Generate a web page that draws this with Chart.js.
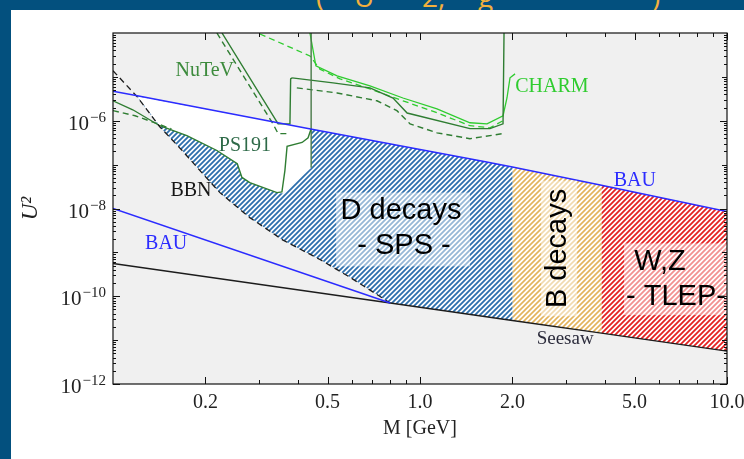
<!DOCTYPE html>
<html>
<head>
<meta charset="utf-8">
<script src="https://cdn.jsdelivr.net/npm/chart.js@4.4.1/dist/chart.umd.min.js"></script>
<style>
  html, body { margin: 0; padding: 0; background: #fff; }
  #wrap { position: relative; width: 744px; height: 459px; overflow: hidden; background: #fff; }
  #chart { position: absolute; left: 0; top: 0; }
  .bar-top { position: absolute; left: 0; top: 0; width: 744px; height: 10px; background: #03507e; overflow: hidden; }
  .bar-left { position: absolute; left: 0; top: 0; width: 11px; height: 459px; background: #03507e; }
  .bar-top span { position: absolute; top: -19px; font: 28px/30px 'Open Sans', sans-serif; color: #f3b03d; white-space: pre; }
</style>
</head>
<body>
<div id="wrap">
  <canvas id="chart" width="744" height="459"></canvas>
  <div class="bar-left"></div>
  <div class="bar-top">
    <span style="left:316px">(</span><span style="left:354px">U</span><span style="left:422px">2,</span><span style="left:478px">g</span><span style="left:652px">)</span>
  </div>
</div>
<script>
/* ─────────────────────────────────────────
   DATA  (M in GeV, U²)
───────────────────────────────────────── */
const xTickLabels = [0.2, 0.5, 1, 2, 5, 10];
const xTickMinor  = [0.3, 0.4, 0.6, 0.7, 0.8, 0.9, 3, 4, 6, 7, 8, 9];
const yLabelExps  = [-12, -10, -8, -6];

const bauUpper = [[0.1, 4.7e-6], [0.12, 3.7e-6], [0.44, 6.5e-7], [1.57, 1.23e-7], [2.0, 8.8e-8], [3.9, 3.4e-8], [10, 8.5e-9]];
const bauLower = [[0.1, 1.0e-8], [0.8, 7.0e-11]];
const seesaw   = [[0.1, 5.6e-10], [0.8, 7.0e-11], [2.0, 2.8e-11], [3.9, 1.44e-11], [10, 5.6e-12]];
const bbn      = [[0.1, 1.38e-5], [0.12, 3.5e-6], [0.142, 7.3e-7], [0.168, 2.1e-7], [0.192, 7.3e-8], [0.223, 2.3e-8],
                  [0.279, 6.2e-9], [0.358, 1.9e-9], [0.472, 6.9e-10], [0.592, 2.7e-10], [0.8, 7.0e-11]];

const ps191       = [[0.1, 2.85e-6], [0.116, 1.78e-6], [0.142, 7.7e-7], [0.174, 4.6e-7], [0.218, 2.1e-7], [0.254, 1.05e-7],
                     [0.263, 5.1e-8], [0.279, 3.9e-8], [0.342, 2.3e-8], [0.355, 2.4e-8], [0.363, 7.3e-8], [0.369, 2.6e-7],
                     [0.413, 3.2e-7], [0.432, 4.1e-7], [0.442, 6.6e-7]];
const ps191Dashed = [[0.1, 1.7e-6], [0.118, 1.3e-6], [0.14, 8.5e-7], [0.155, 6.5e-7]];
const ps191Edge   = [[0.442, 1e-4], [0.442, 8.5e-8]];
const ps191White  = [[0.12, 3.6e-6], [0.442, 6.5e-7], [0.442, 8.5e-8], [0.358, 2.2e-8], [0.342, 2.3e-8], [0.279, 3.9e-8],
                     [0.263, 5.1e-8], [0.254, 1.05e-7], [0.218, 2.1e-7], [0.174, 4.6e-7], [0.142, 7.7e-7]];

const nutev        = [[0.2265, 1e-4], [0.345, 8.5e-7], [0.377, 8.5e-7], [0.379, 9.0e-6], [0.383, 9.5e-6]];
const nutevDashed  = [[0.218, 1e-4], [0.332, 8.5e-7], [0.345, 5.1e-7], [0.377, 5.1e-7]];
const darkSolid    = [[0.383, 9.5e-6], [0.521, 7.3e-6], [0.687, 5.6e-6], [0.817, 3.3e-6], [0.908, 1.5e-6],
                      [1.455, 6.6e-7], [1.69, 6.6e-7], [1.864, 8.5e-7], [1.878, 1e-4]];
const darkDashed   = [[0.397, 5.6e-6], [0.537, 4.3e-6], [0.724, 2.85e-6], [0.841, 1.7e-6], [0.928, 8.5e-7],
                      [1.136, 5.3e-7], [1.455, 3.9e-7], [1.864, 5.1e-7]];
const charm        = [[0.438, 1e-4], [0.458, 1.78e-5], [0.537, 1.05e-5], [0.687, 6.2e-6], [0.88, 3.3e-6], [1.136, 1.87e-6],
                      [1.455, 9.0e-7], [1.653, 8.5e-7], [1.864, 1.3e-6], [1.92, 3.3e-6], [1.964, 9.5e-6], [2.04, 1.17e-5]];
const charmDashed  = [[0.301, 9.5e-5], [0.438, 3.0e-5], [0.472, 1.5e-5], [0.549, 9.0e-6], [0.687, 5.3e-6], [0.88, 2.85e-6],
                      [1.136, 1.52e-6], [1.455, 7.7e-7], [1.69, 6.9e-7], [1.864, 1.0e-6]];

/* ─────────────────────────────────────────
   STYLE
───────────────────────────────────────── */
const SERIF = '"Liberation Serif", "Times New Roman", serif';
const SANS  = '"Liberation Sans", Arial, sans-serif';
Chart.defaults.font.family = SERIF;

const C = {
  bau:    '#2b2bff',
  black:  '#1c1c1c',
  dark:   '#2f7d32',
  bright: '#2fcc2f',
  blue:   '#2d6fad',
  orange: '#e3b35c',
  red:    '#e42222',
};

function hatch(color, size, width) {
  const c = document.createElement('canvas');
  c.width = c.height = size;
  const g = c.getContext('2d');
  g.fillStyle = '#fff';
  g.fillRect(0, 0, size, size);
  g.strokeStyle = color;
  g.lineWidth = width;
  g.beginPath();
  g.moveTo(-1, size + 1);       g.lineTo(size + 1, -1);
  g.moveTo(-2, 2);              g.lineTo(2, -2);
  g.moveTo(size - 2, size + 2); g.lineTo(size + 2, size - 2);
  g.stroke();
  return g.createPattern(c, 'repeat');
}

/* ─────────────────────────────────────────
   HELPERS
───────────────────────────────────────── */
const pts   = arr => arr.map(([x, y]) => ({ x, y }));
const slice = (arr, lo, hi) => arr.filter(([m]) => m >= lo && m <= hi);

function curve(data, color, width, dash, order) {
  return {
    data: pts(data), borderColor: color, borderWidth: width, borderDash: dash || [],
    pointRadius: 0, showLine: true, fill: false, tension: 0, order: order || 2,
  };
}
function region(poly, bg, order) {
  return {
    data: pts([...poly, poly[0]]), backgroundColor: bg, borderWidth: 0, borderColor: 'rgba(0,0,0,0)',
    pointRadius: 0, showLine: true, fill: 'shape', tension: 0, order,
  };
}

// hatched regions built from the boundary curves
const dRegion  = [...slice(bauUpper, 0.12, 2), ...slice(seesaw, 0.8, 2).reverse(), ...slice(bbn, 0.12, 0.8).reverse()];
const bRegion  = [...slice(bauUpper, 2, 3.9),  ...slice(seesaw, 2, 3.9).reverse()];
const wzRegion = [...slice(bauUpper, 3.9, 10), ...slice(seesaw, 3.9, 10).reverse()];

/* ─────────────────────────────────────────
   LABELS
───────────────────────────────────────── */
const notes = [
  { text: 'NuTeV',    at: [0.199, 1.37e-5], color: '#3d8b3d', font: `20px ${SERIF}` },
  { text: 'PS191',    at: [0.269, 2.7e-7],  color: '#2e6a48', font: `20px ${SERIF}` },
  { text: 'BBN',      at: [0.1795, 2.56e-8], color: '#151515', font: `20px ${SERIF}` },
  { text: 'BAU',      at: [0.149, 1.6e-9],  color: C.bau,     font: `20px ${SERIF}` },
  { text: 'BAU',      at: [5.01, 4.33e-8],  color: C.bau,     font: `20px ${SERIF}` },
  { text: 'CHARM',    at: [2.69, 5.9e-6],   color: C.bright,  font: `20px ${SERIF}` },
  { text: 'Seesaw',   at: [2.97, 1.05e-11], color: '#2b2b3b', font: `19px ${SERIF}` },
  { text: 'D decays', at: [0.867, 9.0e-9],  color: '#000',    font: `29px ${SANS}` },
  { text: '- SPS -',  at: [0.887, 1.37e-9], color: '#000',    font: `29px ${SANS}` },
  { text: 'B decays', at: [2.815, 1.23e-9], color: '#000',    font: `29px ${SANS}`, rotate: -Math.PI / 2 },
  { text: 'W,Z',      at: [6.05, 5.9e-10],  color: '#000',    font: `29px ${SANS}` },
  { text: '- TLEP-',  at: [6.82, 9.5e-11],  color: '#000',    font: `29px ${SANS}` },
];
const glowBoxes = [
  [[0.533, 2.31e-8], [1.455, 4.8e-10]],
  [[2.48, 4.33e-8],  [3.25, 3.5e-11]],
  [[4.62, 1.6e-9],   [10, 3.7e-11]],
];

/* ─────────────────────────────────────────
   PLUGIN: background, boxes, labels, ticks, frame
───────────────────────────────────────── */
const decor = {
  id: 'decor',
  beforeDraw(chart) {
    const { ctx, chartArea: a } = chart;
    ctx.save();
    ctx.fillStyle = '#f0f0f0';
    ctx.fillRect(a.left, a.top, a.right - a.left, a.bottom - a.top);
    ctx.restore();
  },
  afterDatasetsDraw(chart) {
    const { ctx, scales: { x, y } } = chart;
    ctx.save();
    ctx.fillStyle = 'rgba(255,255,255,0.5)';
    glowBoxes.forEach(([p, q]) => {
      const x0 = x.getPixelForValue(p[0]), y0 = y.getPixelForValue(p[1]);
      const x1 = x.getPixelForValue(q[0]), y1 = y.getPixelForValue(q[1]);
      ctx.fillRect(x0, y0, x1 - x0, y1 - y0);
    });
    ctx.textAlign = 'center';
    ctx.textBaseline = 'middle';
    notes.forEach(n => {
      ctx.save();
      ctx.translate(x.getPixelForValue(n.at[0]), y.getPixelForValue(n.at[1]));
      if (n.rotate) ctx.rotate(n.rotate);
      ctx.font = n.font;
      ctx.fillStyle = n.color;
      ctx.fillText(n.text, 0, 0);
      ctx.restore();
    });
    ctx.restore();
  },
  afterDraw(chart) {
    const { ctx, chartArea: a, scales: { x, y } } = chart;
    ctx.save();
    ctx.strokeStyle = '#111';
    ctx.lineWidth = 1;
    ctx.beginPath();
    // x ticks, bottom and top, pointing inward
    const xTick = (v, len) => {
      const px = Math.round(x.getPixelForValue(v)) + 0.5;
      ctx.moveTo(px, a.bottom); ctx.lineTo(px, a.bottom - len);
      ctx.moveTo(px, a.top);    ctx.lineTo(px, a.top + len);
    };
    xTickLabels.forEach(v => xTick(v, 7));
    xTickMinor.forEach(v => xTick(v, 4));
    // y ticks, left and right
    for (let e = -12; e < -4; e++) {
      for (let k = 1; k <= 9; k++) {
        const py = Math.round(y.getPixelForValue(k * Math.pow(10, e))) + 0.5;
        const len = k === 1 ? (e % 2 === 0 ? 7 : 5) : 3;
        ctx.moveTo(a.left, py);  ctx.lineTo(a.left + len, py);
        ctx.moveTo(a.right, py); ctx.lineTo(a.right - len, py);
      }
    }
    ctx.stroke();
    ctx.lineWidth = 1.2;
    ctx.strokeRect(a.left, a.top, a.right - a.left, a.bottom - a.top);

    // y labels 10^n with raised exponent
    ctx.fillStyle = '#222';
    ctx.textBaseline = 'alphabetic';
    ctx.textAlign = 'left';
    yLabelExps.forEach(e => {
      const py = y.getPixelForValue(Math.pow(10, e));
      const sup = '\u2212' + Math.abs(e);
      ctx.font = `15px ${SERIF}`;
      const sw = ctx.measureText(sup).width;
      ctx.font = `21px ${SERIF}`;
      const bw = ctx.measureText('10').width;
      const right = a.left - 7;
      ctx.fillText('10', right - sw - bw - 1, py + 9);
      ctx.font = `15px ${SERIF}`;
      ctx.fillText(sup, right - sw, py + 1);
    });
    ctx.restore();
  },
};

/* ─────────────────────────────────────────
   CHART
───────────────────────────────────────── */
new Chart(document.getElementById('chart'), {
  type: 'scatter',
  data: {
    datasets: [
      curve(bauUpper, C.bau, 1.5, null, 1),
      curve(bauLower, C.bau, 1.5, null, 1),
      curve(seesaw, C.black, 1.4, null, 1),
      curve(bbn, C.black, 1.3, [6, 4], 1),
      curve(ps191, C.dark, 1.4, null, 2),
      curve(ps191Dashed, C.dark, 1.4, [6, 4], 2),
      curve(ps191Edge, '#4a7a4a', 1.4, null, 2),
      curve(nutev, C.dark, 1.4, null, 2),
      curve(nutevDashed, C.dark, 1.4, [6, 4], 2),
      curve(darkSolid, C.dark, 1.4, null, 2),
      curve(darkDashed, C.dark, 1.4, [6, 4], 2),
      curve(charm, C.bright, 1.3, null, 2),
      curve(charmDashed, C.bright, 1.3, [6, 4], 2),
      region(ps191White, '#ffffff', 9),
      region(dRegion, hatch(C.blue, 5, 1.8), 10),
      region(bRegion, hatch(C.orange, 5, 1.6), 10),
      region(wzRegion, hatch(C.red, 5, 1.8), 10),
    ],
  },
  options: {
    responsive: false,
    animation: false,
    events: [],
    layout: { padding: { top: 33, right: 17, left: 0, bottom: 0 } },
    plugins: { legend: { display: false }, tooltip: { enabled: false } },
    scales: {
      x: {
        type: 'logarithmic', position: 'bottom', min: 0.1, max: 10,
        afterFit: s => { s.height = 75; s.paddingLeft = 0; s.paddingRight = 0; },
        afterBuildTicks: s => { s.ticks = xTickLabels.map(v => ({ value: v })); },
        grid: { display: false, drawTicks: false },
        border: { display: false },
        ticks: {
          callback: v => Number(v).toFixed(1), padding: 7, color: '#222',
          font: { size: 20 }, maxRotation: 0, autoSkip: false,
        },
        title: { display: true, text: 'M [GeV]', color: '#222', font: { size: 20 }, padding: { top: 0, bottom: 18 } },
      },
      y: {
        type: 'logarithmic', min: 1e-12, max: 1e-4,
        afterFit: s => { s.width = 113; s.paddingTop = 0; s.paddingBottom = 0; },
        grid: { display: false, drawTicks: false },
        border: { display: false },
        ticks: { display: false },
        title: { display: true, text: 'U²', color: '#222', font: { size: 23, style: 'italic' }, padding: { top: 17, bottom: 0 } },
      },
    },
  },
  plugins: [decor],
});
</script>
</body>
</html>
